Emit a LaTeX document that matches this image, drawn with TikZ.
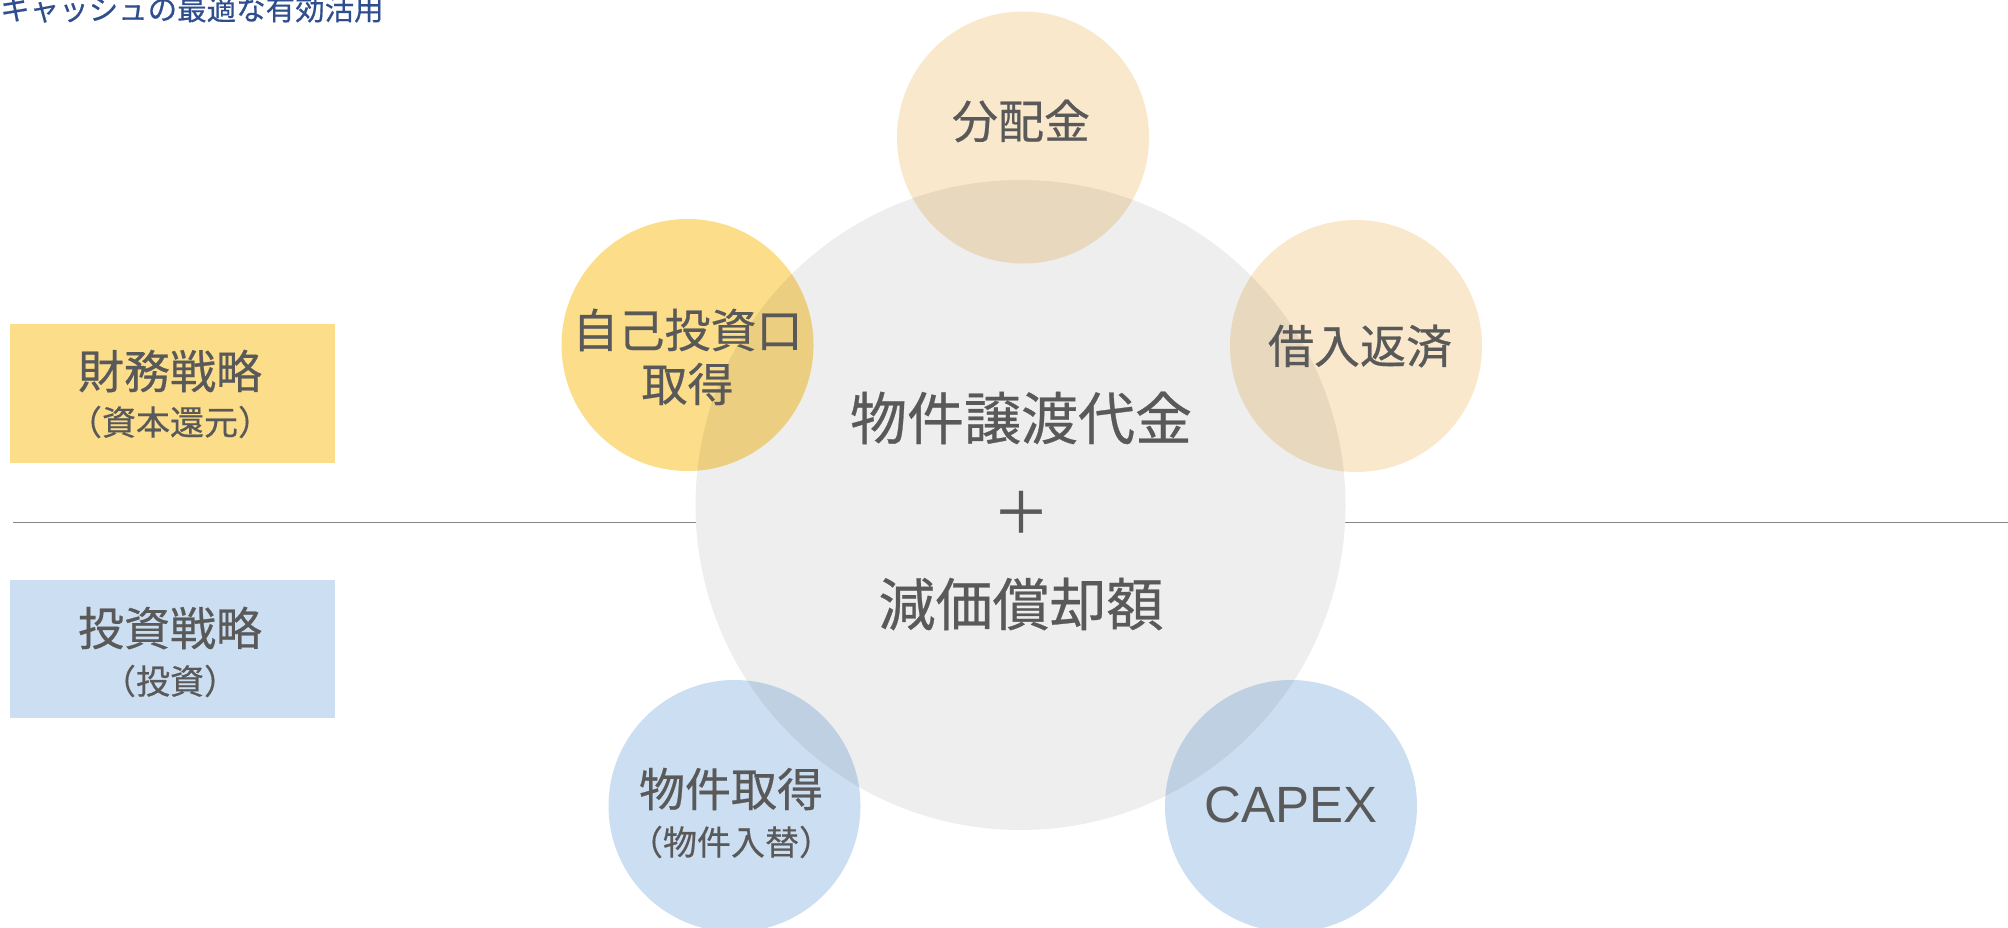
\documentclass[tikz,border=0pt]{standalone}
\usepackage{fontspec}
\setmainfont{Liberation Sans}
\newfontfamily\jp[FakeBold=0.5]{Noto Sans CJK JP}
\definecolor{txt}{HTML}{595959}
\definecolor{ttl}{HTML}{2E4E8E}
\definecolor{yel}{HTML}{FCDD8A}
\definecolor{pale}{HTML}{F9E8CB}
\definecolor{blu}{HTML}{CCDFF2}
\definecolor{rule}{HTML}{868686}
\begin{document}
\begin{tikzpicture}[x=1pt,y=-1pt,
  disc/.style={circle,minimum size=252pt,inner sep=0pt,draw=none},
  band/.style={rectangle,inner sep=0pt,draw=none},
  lab/.style={inner sep=0pt,text=txt,font=\jp\fontsize{46pt}{52pt}\selectfont},
  sub/.style={inner sep=0pt,text=txt,font=\jp\fontsize{34pt}{40pt}\selectfont},
  core/.style={inner sep=0pt,text=txt,font=\jp\fontsize{57pt}{64pt}\selectfont}]
\useasboundingbox (0,0) rectangle (2008,928);
% title
\node[inner sep=0pt,anchor=west,text=ttl,font=\jp\fontsize{29.5pt}{34pt}\selectfont] (title) at (0,9) {キャッシュの最適な有効活用};
% left bands
\fill[yel] (10,324) rectangle (335,463);
\fill[blu] (10,580) rectangle (335,718);
\node[lab] (fin) at (170,371) {財務戦略};
\node[sub] (finsub) at (170,422) {（資本還元）};
\node[lab] (inv) at (170,628) {投資戦略};
\node[sub] (invsub) at (170,681) {（投資）};
% divider line
\coordinate (lL) at (13,522.5);
\coordinate (lR) at (2008,522.5);
\draw[rule,line width=1.8pt] (lL) -- (lR);
% big circle base
\node[circle,minimum size=650pt,inner sep=0pt,fill=white] (bigbase) at (1020.5,505) {};
% satellite circles
\node[disc,fill=pale] (c1) at (1023,137.5) {};
\node[disc,fill=yel] (c2) at (687.5,345) {};
\node[disc,fill=pale] (c3) at (1356,346) {};
\node[disc,fill=blu] (c4) at (734.5,806) {};
\node[disc,fill=blu] (c5) at (1291,806) {};
% big circle tint (multiplies over the satellites)
\node[circle,minimum size=650pt,inner sep=0pt,fill=black,fill opacity=0.067] (big) at (1020.5,505) {};
% texts
\node[lab] (t1) at (1021,121) {分配金};
\node[lab] (t2a) at (687.5,330) {自己投資口};
\node[lab] (t2b) at (687.5,384) {取得};
\node[lab] (t3) at (1360,346) {借入返済};
\node[lab] (t4a) at (731,789) {物件取得};
\node[sub] (t4b) at (731,842) {（物件入替）};
\node[inner sep=0pt,text=txt,font=\fontsize{51pt}{58pt}\selectfont] (t5) at (1291,805) {CAPEX};
\node[core] (m1) at (1021,418) {物件譲渡代金};
\node[core] (m2) at (1021,512) {＋};
\node[core] (m3) at (1021,604) {減価償却額};
\end{tikzpicture}
\end{document}
